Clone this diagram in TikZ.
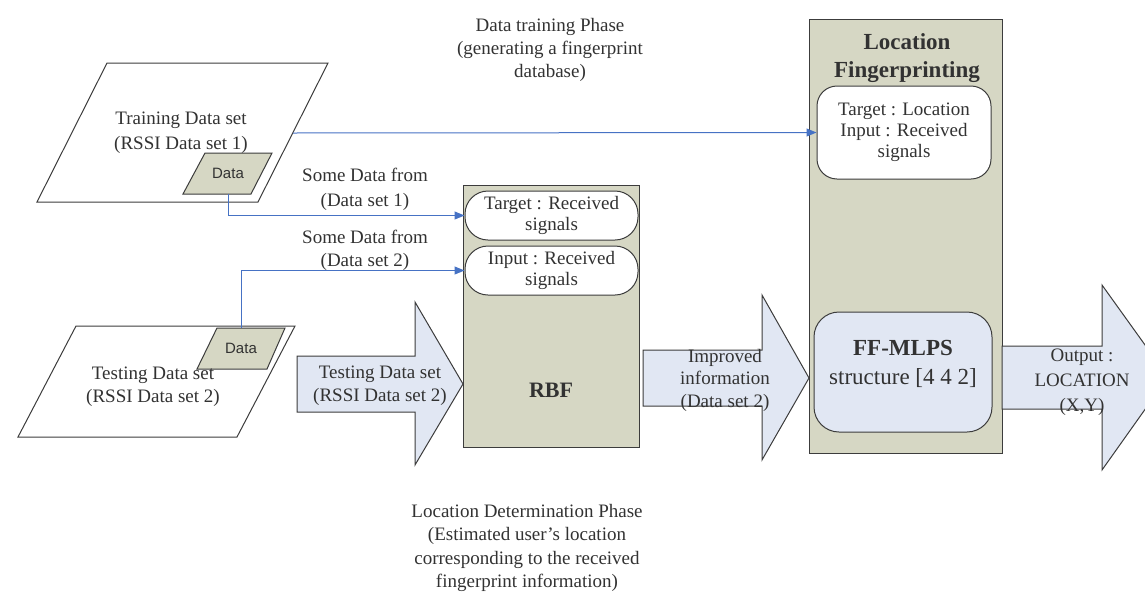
\documentclass[tikz,border=0pt]{standalone}
\usepackage{fontspec}
\setmainfont{Liberation Serif}
\newfontfamily\arialfont{Liberation Sans}
\usetikzlibrary{arrows.meta}
\definecolor{panelfill}{RGB}{214,215,196}
\definecolor{flowfill}{RGB}{225,231,243}
\definecolor{edgecol}{RGB}{60,60,60}
\definecolor{linkcol}{RGB}{70,114,196}
\definecolor{txtcol}{RGB}{50,50,50}
\tikzset{
  every node/.style={text=txtcol},
  txt/.style={align=center, inner sep=0pt, font=\fontsize{19}{23}\selectfont},
  sheet/.style={draw=edgecol, line width=1pt, fill=white},
  datapad/.style={draw=edgecol, line width=1pt, fill=panelfill},
  datalabel/.style={inner sep=0pt, font=\arialfont\fontsize{15}{18}\selectfont},
  panel/.style={draw=edgecol, line width=1pt, fill=panelfill, inner sep=0pt},
  pill/.style={draw=edgecol, line width=1pt, fill=white, rounded corners=23pt,
     align=center, inner sep=0pt, font=\fontsize{19}{21}\selectfont},
  flow/.style={draw=edgecol, line width=1pt, fill=flowfill},
  link/.style={draw=linkcol, line width=1pt, -{Triangle[length=10pt,width=8pt]}},
}
\begin{document}
\begin{tikzpicture}[x=1pt,y=-1pt]
\useasboundingbox (0,0) rectangle (1145,592);
\clip (0,0) rectangle (1145,592);

% phase captions
\node[txt] (trainphase) at (550,50) {Data training Phase\\(generating a fingerprint\\database)};
\node[txt, font=\fontsize{19}{23.5}\selectfont] (testphase) at (527,548)
  {Location Determination Phase\\(Estimated user’s location\\corresponding to the received\\fingerprint information)};

% training data sheet
\draw[sheet] (107,63) -- (328,63) -- (258,202) -- (37,202) -- cycle;
\node[txt, font=\fontsize{19}{25}\selectfont] (trainset) at (181,133) {Training Data set\\(RSSI Data set 1)};
\draw[datapad] (205,153) -- (272,153) -- (251,194) -- (183,194) -- cycle;
\node[datalabel] (trdata) at (228,173) {Data};
\coordinate (trdataout) at (228,194);
\coordinate (trainout) at (293,133);

% testing data sheet
\draw[sheet] (76,326) -- (295,326) -- (237,437) -- (18,437) -- cycle;
\draw[datapad] (217,328) -- (285,328) -- (267,369) -- (197,369) -- cycle;
\node[datalabel] (tsdata) at (241,348) {Data};
\node[txt] (testset) at (153,387) {Testing Data set\\(RSSI Data set 2)};
\coordinate (tsdataout) at (241,328);

% RBF block
\node[panel, minimum width=176pt, minimum height=262pt] (rbf) at (551,316) {};
\node[txt, font=\bfseries\fontsize{22}{26}\selectfont] (rbflabel) at (551,390) {RBF};
\node[pill, minimum width=173pt, minimum height=49pt] (rbftarget) at (551.5,215.5) {Target : Received\\signals};
\node[pill, minimum width=173pt, minimum height=49pt] (rbfinput) at (551.5,270.5) {Input : Received\\signals};

% location fingerprinting block
\node[panel, minimum width=193pt, minimum height=434pt] (lfbox) at (905.5,236) {};
\node[txt, font=\bfseries\fontsize{23}{28}\selectfont] (lftitle) at (907,58) {Location\\Fingerprinting};
\node[pill, rounded corners=20pt, minimum width=174pt, minimum height=93pt] (lftarget) at (904,132.5)
  {Target : Location\\Input : Received\\signals};
\node[draw=edgecol, line width=1pt, fill=flowfill, rounded corners=25pt, minimum width=178pt,
  minimum height=120pt, inner sep=0pt] (ffmlp) at (903,372) {};
\node[txt, font=\fontsize{23}{29}\selectfont] (fflabel) at (903,364) {\textbf{FF-MLPS}\\structure [4 4 2]};

% block arrows
\draw[flow] (297,356) -- (415,356) -- (415,302) -- (463,384) -- (415,465) -- (415,412) -- (297,412) -- cycle;
\node[txt] (testflow) at (380,386) {Testing Data set\\(RSSI Data set 2)};
\draw[flow] (643,350) -- (762,350) -- (762,295) -- (809,378) -- (762,460) -- (762,406) -- (643,406) -- cycle;
\node[txt, font=\fontsize{19}{22.5}\selectfont] (improved) at (725,380) {Improved\\information\\(Data set 2)};
\draw[flow] (1002,346) -- (1102,346) -- (1102,285) -- (1168,377) -- (1102,470) -- (1102,409) -- (1002,409) -- cycle;
\node[txt, font=\fontsize{19}{25}\selectfont] (outflow) at (1082,382) {Output :\\LOCATION\\(X,Y)};

% connectors
\node[txt, font=\fontsize{19}{25}\selectfont] (some1) at (365,189) {Some Data from\\(Data set 1)};
\node[txt, font=\fontsize{19}{23}\selectfont] (some2) at (365,250) {Some Data from\\(Data set 2)};
\draw[link] (trdataout) |- (rbftarget.west);
\draw[link] (tsdataout) |- (rbfinput.west);
\draw[link] (trainout) -- (lftarget.west);
\end{tikzpicture}
\end{document}
